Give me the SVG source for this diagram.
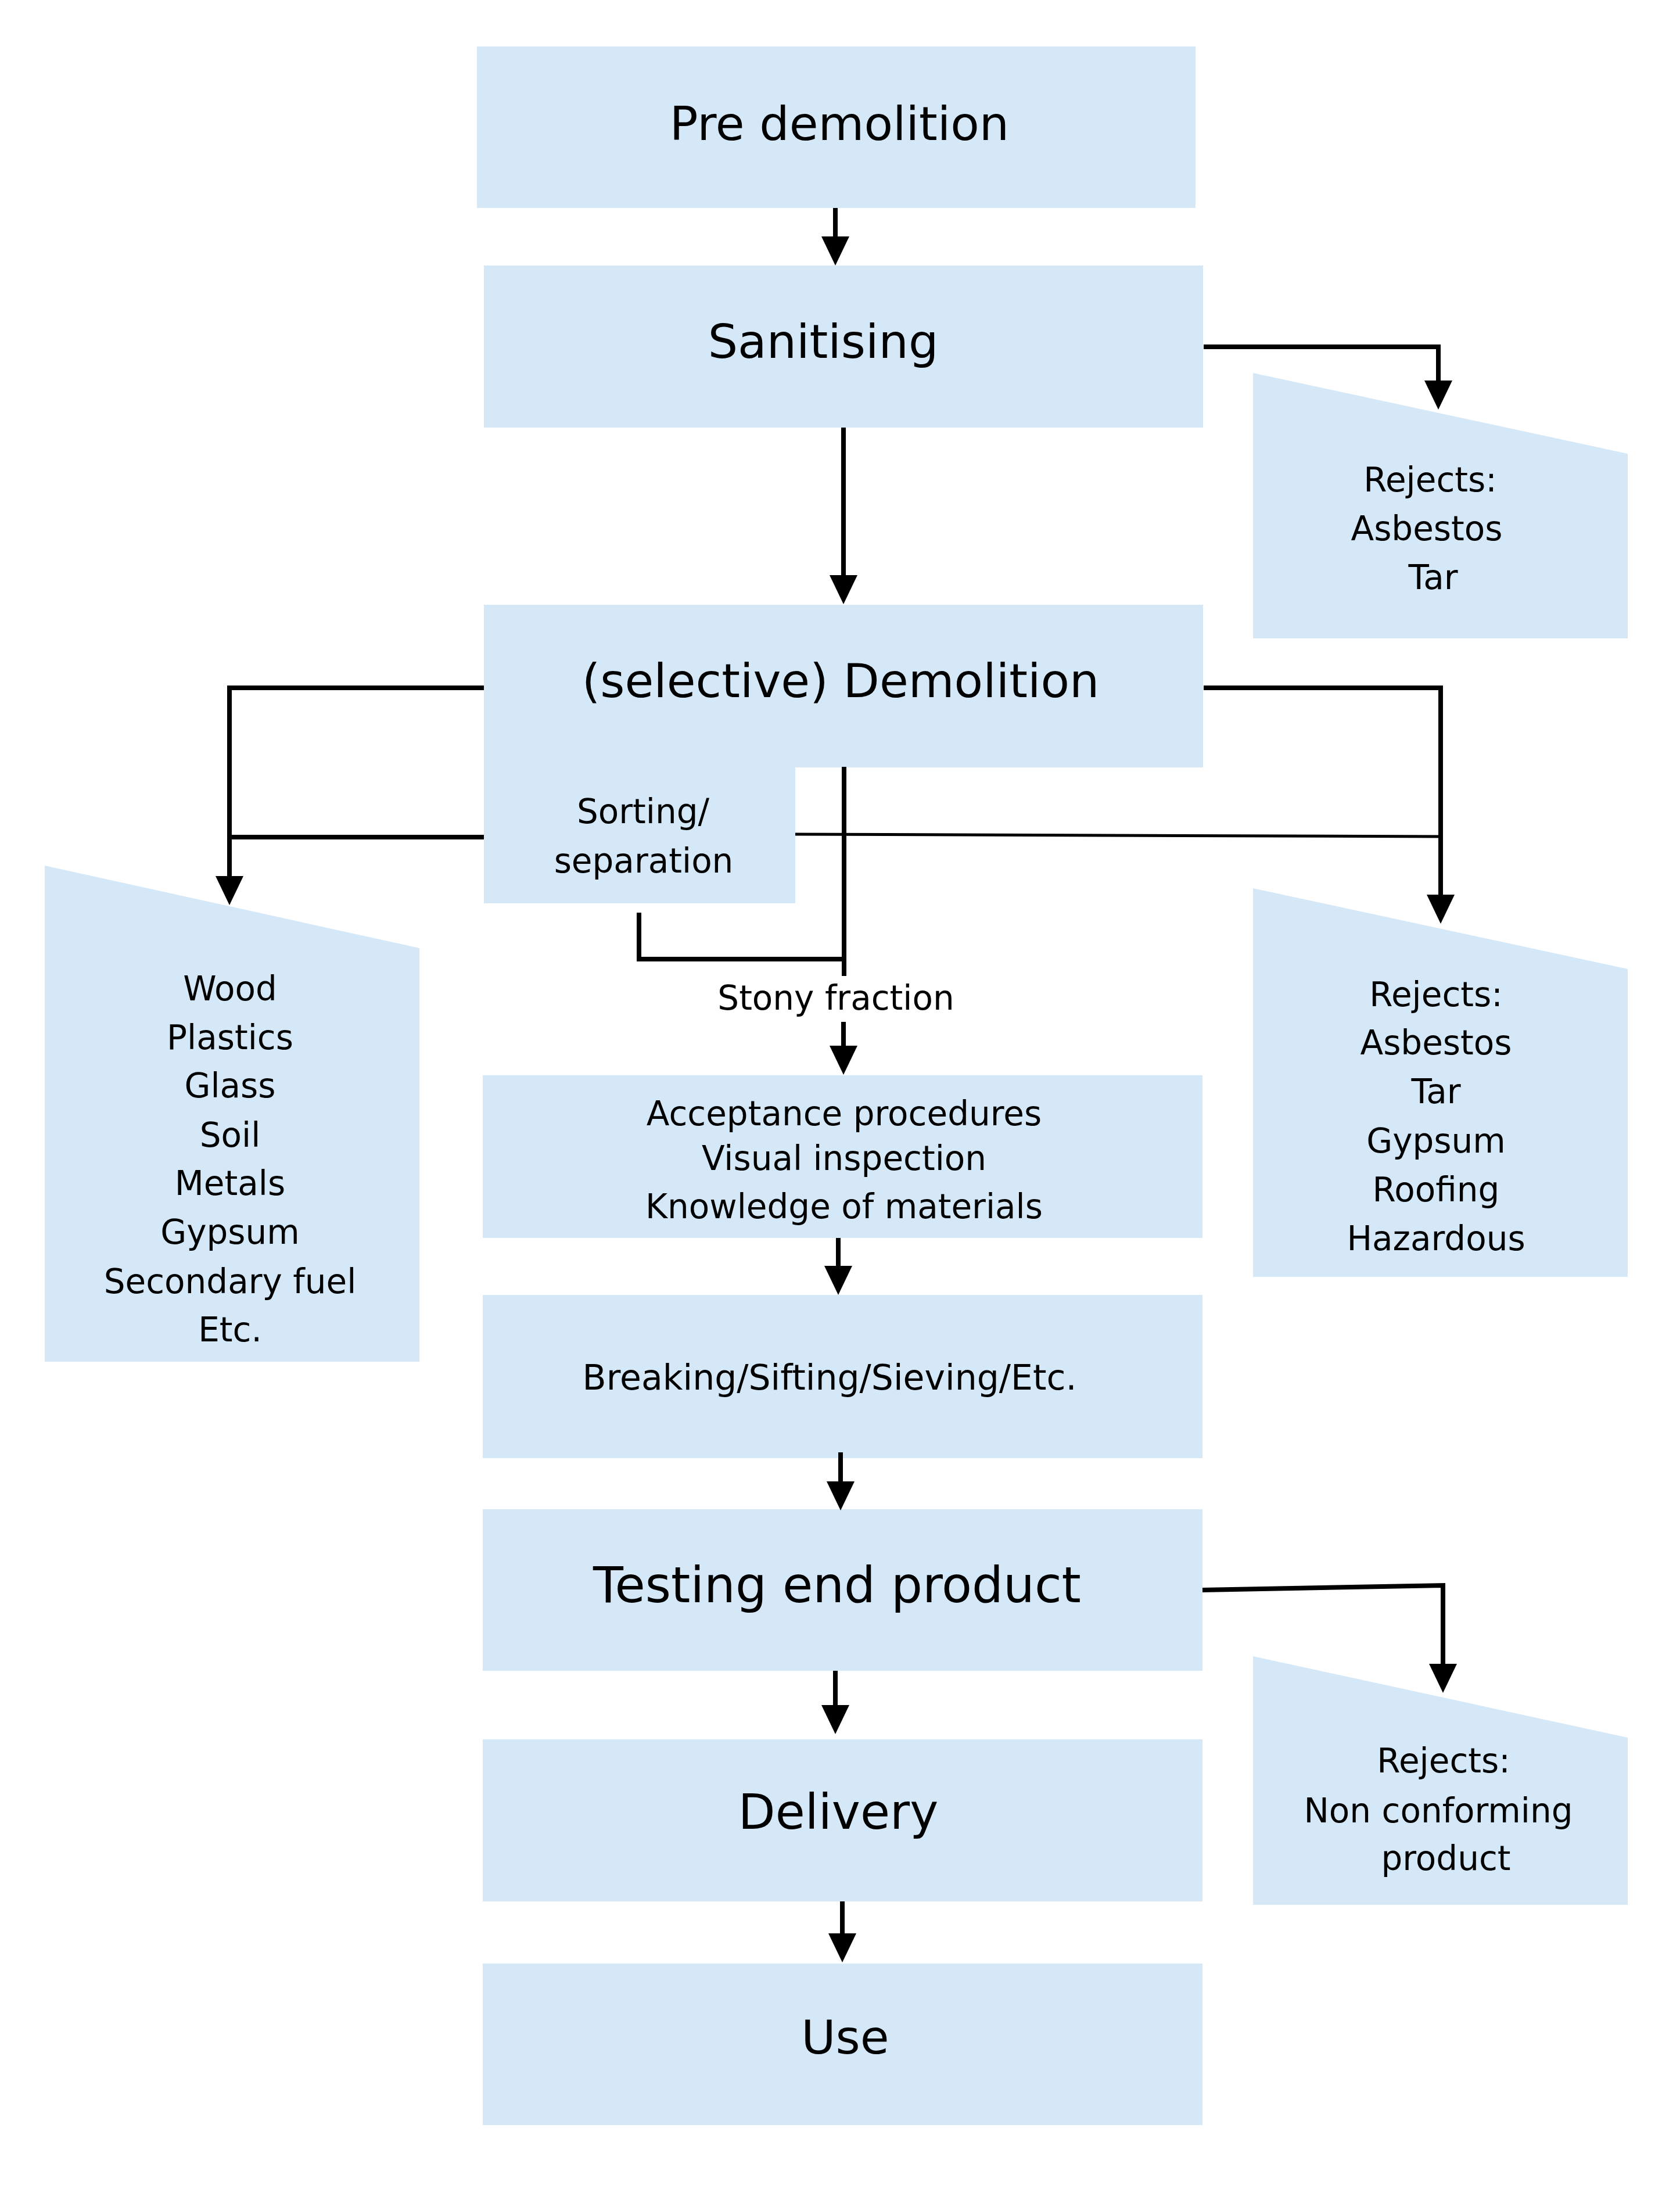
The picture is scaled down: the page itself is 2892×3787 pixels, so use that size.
<svg xmlns="http://www.w3.org/2000/svg" width="2892" height="3787" viewBox="0 0 2892 3787">
<style>
.box{fill:#D5E8F8;stroke:none}
.t{font-family:"DejaVu Sans","Liberation Sans",sans-serif;fill:#000;text-anchor:middle}
.big{font-size:81px}
.med{font-size:58px}
.ln{fill:none;stroke:#000;stroke-width:8}
.thin{fill:none;stroke:#000;stroke-width:5}
</style>
<defs>
<marker id="ah" viewBox="0 0 50 48" markerWidth="50" markerHeight="48" refX="0" refY="24" orient="auto" markerUnits="userSpaceOnUse">
<path d="M0,0 L50,24 L0,48 z" fill="#000"/>
</marker>
</defs>
<rect width="2892" height="3787" fill="#fff"/>
<g id="pre-demolition"><rect class="box" x="821" y="80" width="1237" height="278"/><text class="t big" x="1445" y="241">Pre demolition</text></g>
<g id="sanitising"><rect class="box" x="833" y="457" width="1238" height="279"/><text class="t big" x="1417" y="616">Sanitising</text></g>
<g id="rejects-1"><polygon class="box" points="2157,642 2802,781 2802,1099 2157,1099"/><text class="t med" x="2462" y="846">Rejects:</text><text class="t med" x="2456" y="930">Asbestos</text><text class="t med" x="2467" y="1014">Tar</text></g>
<g id="demolition"><rect class="box" x="833" y="1041" width="1238" height="280"/><text class="t big" x="1447" y="1200">(selective) Demolition</text></g>
<g id="sorting"><rect class="box" x="833" y="1320" width="536" height="235"/><text class="t med" x="1107" y="1417">Sorting/</text><text class="t med" x="1108" y="1502">separation</text></g>
<g id="materials"><polygon class="box" points="77,1490 722,1632 722,2344 77,2344"/>
<text class="t med" x="396" y="1722">Wood</text><text class="t med" x="396" y="1806">Plastics</text><text class="t med" x="396" y="1889">Glass</text><text class="t med" x="396" y="1974">Soil</text><text class="t med" x="396" y="2057">Metals</text><text class="t med" x="396" y="2141">Gypsum</text><text class="t med" x="396" y="2226">Secondary fuel</text><text class="t med" x="396" y="2309">Etc.</text></g>
<g id="rejects-2"><polygon class="box" points="2157,1529 2802,1668 2802,2198 2157,2198"/>
<text class="t med" x="2472" y="1732">Rejects:</text><text class="t med" x="2472" y="1815">Asbestos</text><text class="t med" x="2472" y="1899">Tar</text><text class="t med" x="2472" y="1984">Gypsum</text><text class="t med" x="2472" y="2068">Roofing</text><text class="t med" x="2472" y="2152">Hazardous</text></g>
<g id="stony-label"><text class="t med" x="1439" y="1738">Stony fraction</text></g>
<g id="acceptance"><rect class="box" x="831" y="1851" width="1239" height="280"/><text class="t med" x="1453" y="1937">Acceptance procedures</text><text class="t med" x="1453" y="2014">Visual inspection</text><text class="t med" x="1453" y="2097">Knowledge of materials</text></g>
<g id="breaking"><rect class="box" x="831" y="2229" width="1239" height="281"/><text class="t med" x="1428" y="2392" style="font-size:60px">Breaking/Sifting/Sieving/Etc.</text></g>
<g id="testing"><rect class="box" x="831" y="2598" width="1239" height="278"/><text class="t big" x="1441" y="2758" style="font-size:85px">Testing end product</text></g>
<g id="rejects-3"><polygon class="box" points="2157,2851 2802,2991 2802,3279 2157,3279"/><text class="t med" x="2485" y="3051">Rejects:</text><text class="t med" x="2476" y="3137">Non conforming</text><text class="t med" x="2489" y="3219">product</text></g>
<g id="delivery"><rect class="box" x="831" y="2994" width="1239" height="279"/><text class="t big" x="1443" y="3148" style="font-size:83px">Delivery</text></g>
<g id="use"><rect class="box" x="831" y="3380" width="1239" height="278"/><text class="t big" x="1455" y="3535">Use</text></g>
<g id="connectors">
<path class="ln" d="M1438,358 V407" marker-end="url(#ah)"/>
<path class="ln" d="M1452,736 V990" marker-end="url(#ah)"/>
<path class="ln" d="M2072,597 H2476 V655" marker-end="url(#ah)"/>
<path class="ln" d="M833,1184 H395 V1508" marker-end="url(#ah)"/>
<path class="ln" d="M833,1441 H395"/>
<path class="ln" d="M2072,1184 H2480 V1540" marker-end="url(#ah)"/>
<path class="thin" d="M1369,1436 L2484,1440"/>
<path class="ln" d="M1453,1320 V1680"/>
<path class="ln" d="M1100,1571 V1651 H1453"/>
<path class="ln" d="M1452,1759 V1800" marker-end="url(#ah)"/>
<path class="ln" d="M1443,2131 V2179" marker-end="url(#ah)"/>
<path class="ln" d="M1447,2500 V2550" marker-end="url(#ah)"/>
<path class="ln" d="M2070,2737 L2484,2729 V2864" marker-end="url(#ah)"/>
<path class="ln" d="M1438,2876 V2935" marker-end="url(#ah)"/>
<path class="ln" d="M1450,3273 V3328" marker-end="url(#ah)"/>
</g>
</svg>
